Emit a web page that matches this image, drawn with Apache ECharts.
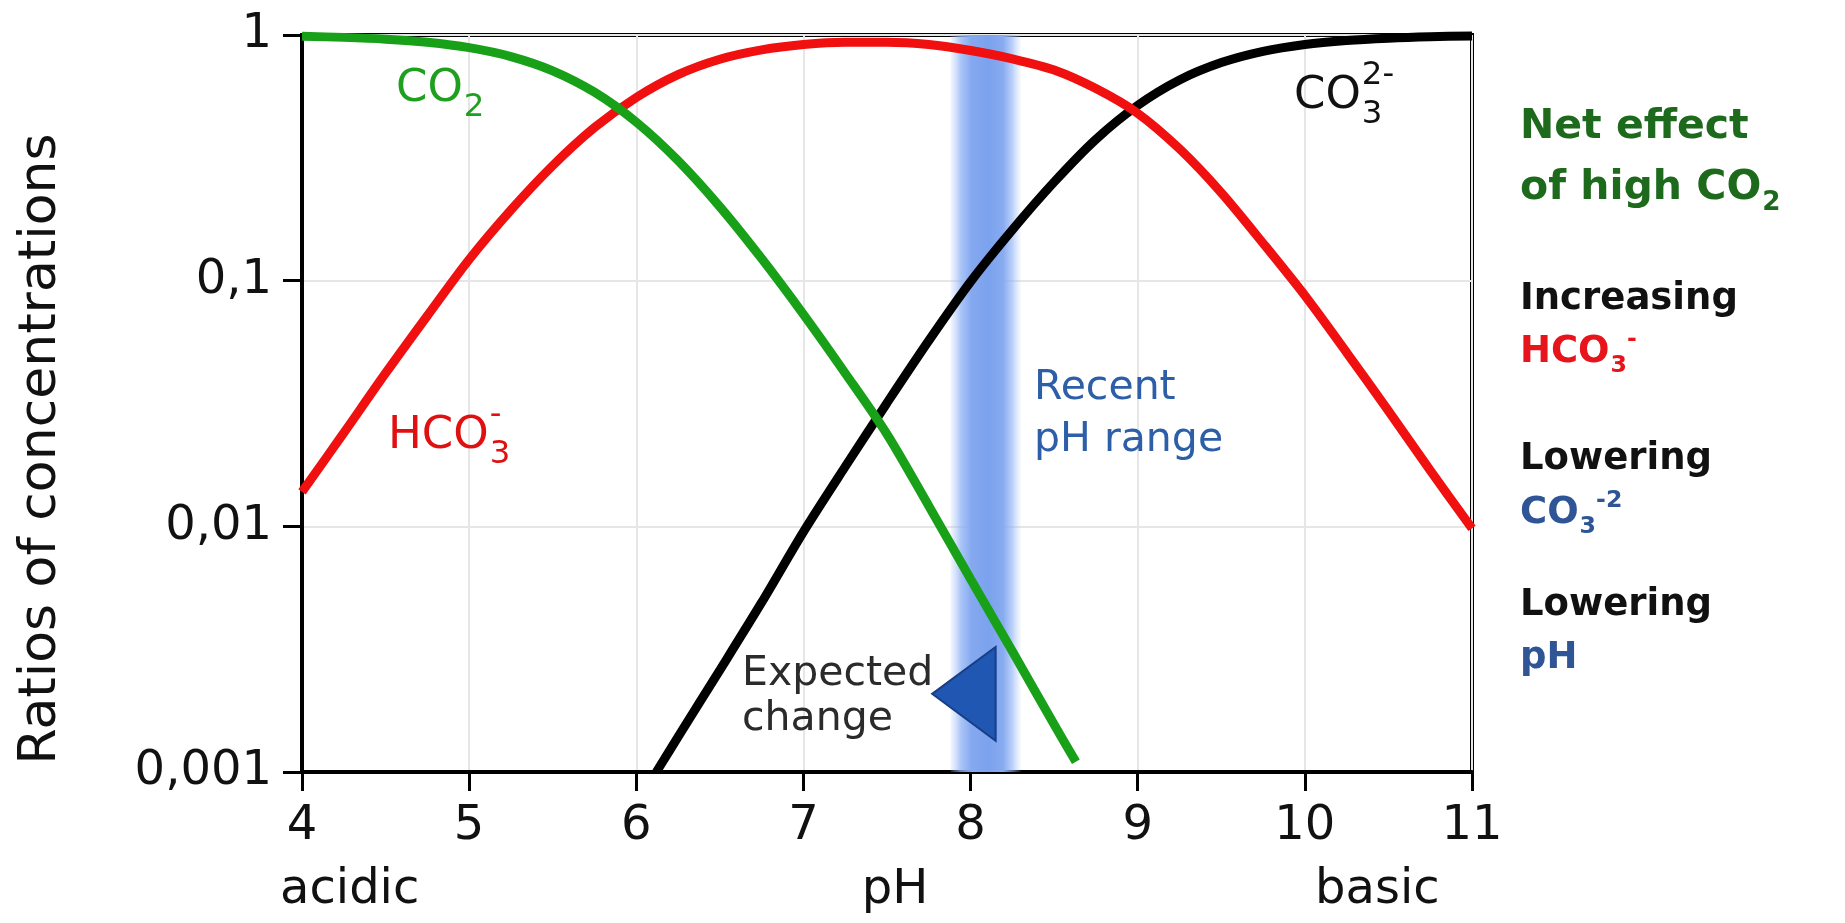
<!DOCTYPE html>
<html><head><meta charset="utf-8">
<script src="https://cdn.jsdelivr.net/npm/echarts@6/dist/echarts.min.js"></script>
<style>html,body{margin:0;padding:0;background:#fff;}#main{width:1845px;height:923px;}</style>
</head><body><div id="main"></div>
<script>
// ---- data ----
const phGrid = [4, 4.25, 4.5, 4.75, 5, 5.25, 5.5, 5.75, 6, 6.25, 6.5, 6.75, 7, 7.25, 7.5, 7.75, 8, 8.25, 8.5, 8.75, 9, 9.25, 9.5, 9.75, 10, 10.25, 10.5, 10.75, 11];
const co2Ph = [4, 4.25, 4.5, 4.75, 5, 5.25, 5.5, 5.75, 6, 6.25, 6.5, 6.75, 7, 7.25, 7.5, 7.75, 8, 8.25, 8.5, 8.63];
const co2Values = [0.9876, 0.978, 0.962, 0.934, 0.888, 0.817, 0.715, 0.585, 0.442, 0.308, 0.200, 0.123, 0.0729, 0.0420, 0.0237, 0.0121, 0.0061, 0.0031, 0.00156, 0.0011];
const hco3Values = [0.0138, 0.024, 0.042, 0.072, 0.122, 0.194, 0.294, 0.42, 0.557, 0.690, 0.797, 0.870, 0.915, 0.935, 0.935, 0.915, 0.865, 0.80, 0.72, 0.605, 0.48, 0.344, 0.228, 0.142, 0.087, 0.051, 0.0295, 0.0169, 0.0098];
const co3Ph = [6.12, 6.25, 6.5, 6.75, 7, 7.25, 7.5, 7.75, 8, 8.25, 8.5, 8.75, 9, 9.25, 9.5, 9.75, 10, 10.25, 10.5, 10.75, 11];
const co3Values = [0.001, 0.00139, 0.0026, 0.0049, 0.0095, 0.0175, 0.0318, 0.057, 0.099, 0.161, 0.252, 0.376, 0.517, 0.656, 0.772, 0.858, 0.915, 0.950, 0.971, 0.984, 0.991];
const xTickValues = [4, 5, 6, 7, 8, 9, 10, 11];
const yTickLabels = ['0,001', '0,01', '0,1', '1'];
const recentPhRange = [7.88, 8.30];
const expectedChangeTriangle = [[7.77, 0.00208], [8.15, 0.00323], [8.15, 0.00134]];

// ---- chart ----
const chart = echarts.init(document.getElementById('main'));
const FONT = "'DejaVu Sans', sans-serif";
const pairs = (xs, ys) => xs.map((x, i) => [x, ys[i]]);

const mctx = document.createElement('canvas').getContext('2d');
function tw(t, size, family, weight) { mctx.font = (weight || 'normal') + ' ' + size + 'px ' + family; return mctx.measureText(t).width; }
function txt(x, y, text, color, size, family, weight, extra) {
  return Object.assign({ type: 'text', x: x, y: y, z: 100,
    style: { text: text, fill: color, fontSize: size, fontFamily: family, fontWeight: weight || 'normal',
      verticalAlign: 'middle', textVerticalAlign: 'middle', align: 'left', textAlign: 'left' } }, extra || {});
}
// chemical formula: base + subscript (+ superscript), stacked or sequential
function chem(x, y, base, sub, sup, color, size, family, weight, stacked, ratio, subDy, supDy) {
  const els = [txt(x, y, base, color, size, family, weight)];
  const w = tw(base, size, family, weight);
  const s = size * (ratio || 0.64);
  els.push(txt(x + w + 1, y + size * (subDy || 0.38), sub, color, s, family, weight));
  if (sup) {
    const sx = stacked ? x + w + 1 : x + w + 1 + tw(sub, s, family, weight);
    els.push(txt(sx, y - size * (supDy || 0.32), sup, color, s, family, weight));
  }
  return els;
}

const graphics = [].concat(
  [txt(41, 449, 'Ratios of concentrations', '#111', 52, FONT, 'normal', { rotation: Math.PI / 2, style: { text: 'Ratios of concentrations', fill: '#111', fontSize: 52, fontFamily: FONT, align: 'center', textAlign: 'center', verticalAlign: 'middle', textVerticalAlign: 'middle' } })],
  [txt(280, 891, 'acidic', '#111', 48, FONT)],
  [txt(1315, 891, 'basic', '#111', 48, FONT)],
  // in-plot labels
  chem(396, 89, 'CO', '2', null, '#1ea01e', 45, FONT, 'normal', true, 0.72, 0.42, 0.46),
  chem(388, 436, 'HCO', '3', '-', '#e01010', 45, FONT, 'normal', true, 0.72, 0.42, 0.46),
  chem(1294, 96, 'CO', '3', '2-', '#111', 45, FONT, 'normal', true, 0.72, 0.42, 0.46),
  [txt(1034, 388, 'Recent', '#2d5ea8', 41, FONT), txt(1034, 440, 'pH range', '#2d5ea8', 41, FONT)],
  [txt(742, 674, 'Expected', '#2b2b2b', 41, FONT), txt(742, 719, 'change', '#2b2b2b', 41, FONT)],
  // right-hand notes
  [txt(1520, 127, 'Net effect', '#1d6a1d', 41, FONT, 'bold')],
  chem(1520, 188, 'of high CO', '2', null, '#1d6a1d', 41, FONT, 'bold', false),
  [txt(1520, 299, 'Increasing', '#111', 37, FONT, 'bold')],
  chem(1520, 352, 'HCO', '3', '-', '#e8141c', 37, FONT, 'bold', false),
  [txt(1520, 459, 'Lowering', '#111', 37, FONT, 'bold')],
  chem(1520, 513, 'CO', '3', '-2', '#2f5597', 37, FONT, 'bold', false),
  [txt(1520, 605, 'Lowering', '#111', 37, FONT, 'bold')],
  [txt(1520, 658, 'pH', '#2f5597', 37, FONT, 'bold')]
);

const option = {
  animation: false,
  backgroundColor: '#fff',
  grid: { left: 302, right: 373, top: 35, bottom: 151, show: true, borderColor: '#000', borderWidth: 4, backgroundColor: 'transparent' },
  xAxis: {
    type: 'value', min: 4, max: 11, interval: 1,
    name: 'pH', nameLocation: 'middle', nameGap: 95,
    nameTextStyle: { fontSize: 48, fontFamily: FONT, color: '#111', padding: [0, 0, 0, 16] },
    axisLine: { lineStyle: { color: '#000', width: 4 } },
    axisTick: { length: 19, lineStyle: { color: '#000', width: 3 } },
    axisLabel: { fontSize: 48, fontFamily: FONT, color: '#111', margin: 31,
      formatter: v => (xTickValues.indexOf(v) >= 0 ? String(v) : '') },
    splitLine: { lineStyle: { color: '#e6e6e6', width: 2 } }
  },
  yAxis: {
    type: 'log', logBase: 10, min: 0.001, max: 1,
    axisLine: { show: true, lineStyle: { color: '#000', width: 4 } },
    axisTick: { show: true, length: 19, lineStyle: { color: '#000', width: 3 } },
    axisLabel: { fontSize: 48, fontFamily: FONT, color: '#111', margin: 30,
      formatter: v => yTickLabels[Math.round(Math.log10(v)) + 3] },
    splitLine: { lineStyle: { color: '#e6e6e6', width: 2 } },
    minorTick: { show: false }
  },
  graphic: graphics,
  series: [
    {
      name: 'band', type: 'line', data: [], silent: true,
      markArea: {
        silent: true,
        itemStyle: {
          color: new echarts.graphic.LinearGradient(0, 0, 1, 0, [
            { offset: 0, color: 'rgba(170,198,248,0.15)' },
            { offset: 0.15, color: 'rgba(140,176,244,0.75)' },
            { offset: 0.3, color: '#85a9f0' },
            { offset: 0.55, color: '#7ba2ee' },
            { offset: 0.75, color: '#88abf0' },
            { offset: 0.88, color: 'rgba(140,176,244,0.6)' },
            { offset: 1, color: 'rgba(170,198,248,0.1)' }
          ])
        },
        data: [[{ xAxis: recentPhRange[0] }, { xAxis: recentPhRange[1] }]]
      }
    },
    {
      name: 'triangle', type: 'custom', z: 4, silent: true,
      data: [expectedChangeTriangle[0]],
      renderItem: (params, api) => ({
        type: 'polygon',
        shape: { points: expectedChangeTriangle.map(p => api.coord(p)) },
        style: { fill: '#2057b3', stroke: '#183f85', lineWidth: 2 }
      })
    },
    { name: 'CO3', type: 'line', data: pairs(co3Ph, co3Values), smooth: 0.3, showSymbol: false, z: 5,
      lineStyle: { color: '#000', width: 9 } },
    { name: 'HCO3', type: 'line', data: pairs(phGrid, hco3Values), smooth: 0.3, showSymbol: false, z: 6,
      lineStyle: { color: '#f01010', width: 9 } },
    { name: 'CO2', type: 'line', data: pairs(co2Ph, co2Values), smooth: 0.3, showSymbol: false, z: 7,
      lineStyle: { color: '#19a019', width: 9 } }
  ]
};
chart.setOption(option);
</script></body></html>
